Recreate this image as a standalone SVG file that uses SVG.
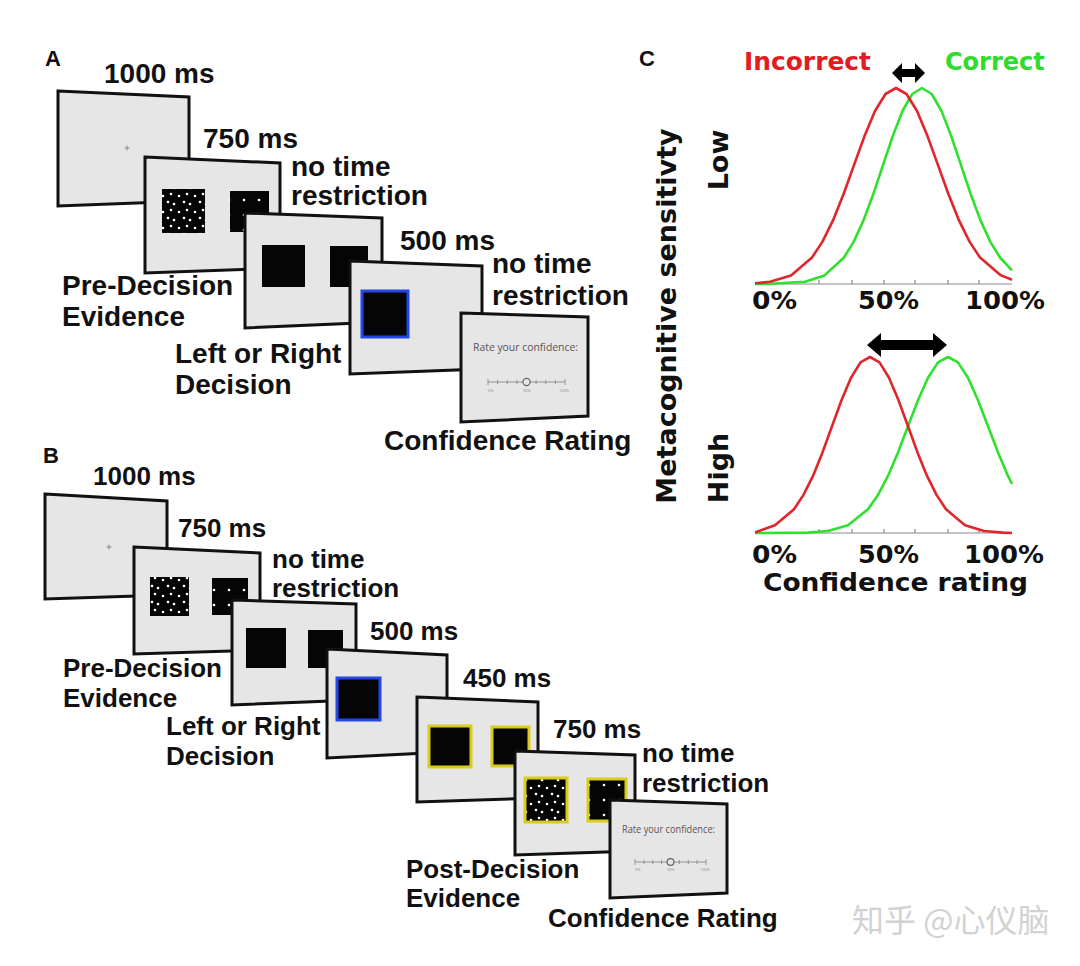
<svg xmlns="http://www.w3.org/2000/svg" width="1080" height="966" viewBox="0 0 1080 966">
<style>
.scr{fill:#e6e6e6;stroke:#111;stroke-width:3;stroke-linejoin:miter}
.lbA{font-family:"Liberation Sans",Arial,sans-serif;font-weight:bold;font-size:28px;fill:#111}
.lbB{font-family:"Liberation Sans",Arial,sans-serif;font-weight:bold;font-size:26px;fill:#111}
.pl{font-family:"Liberation Sans",Arial,sans-serif;font-weight:bold;font-size:22px;fill:#111}
.vc{font-family:"DejaVu Sans",Verdana,sans-serif;font-weight:bold;font-size:24px;fill:#111}
.vr{font-family:"DejaVu Sans",Verdana,sans-serif;font-weight:bold;font-size:27px;fill:#111}
.rate{font-family:"Open Sans","Noto Sans",sans-serif;fill:#5e5357}
.tiny{font-family:"Open Sans","Noto Sans",sans-serif;font-size:4px;fill:#888}
.blk{fill:#050505}
.blue{fill:#050505;stroke:#2347e8;stroke-width:3}
.yel{stroke:#d9cc1a;stroke-width:3}
.red{fill:none;stroke:#e0262c;stroke-width:2.6;stroke-linejoin:round}
.grn{fill:none;stroke:#2fe02f;stroke-width:2.6;stroke-linejoin:round}
.ax{stroke:#8a8a8a;stroke-width:1.2;fill:none}
.fx{stroke:#777;stroke-width:0.8}
.sl{stroke:#8a8a8a;stroke-width:0.9;fill:none}
</style>
<defs>
<pattern id="dense" patternUnits="userSpaceOnUse" width="16" height="16">
<rect width="16" height="16" fill="#050505"/>
<circle cx="3" cy="4" r="1.3" fill="#fff"/>
<circle cx="11" cy="2" r="1.3" fill="#fff"/>
<circle cx="8" cy="10" r="1.3" fill="#fff"/>
<circle cx="14" cy="12" r="1.3" fill="#fff"/>
</pattern>
<pattern id="sparse" patternUnits="userSpaceOnUse" width="15" height="15">
<rect width="15" height="15" fill="#050505"/>
<circle cx="4" cy="5" r="1.3" fill="#fff"/>
</pattern>
</defs>
<rect width="1080" height="966" fill="#ffffff"/>

<!-- Panel A -->
<g id="panelA">
<text class="pl" x="45" y="66">A</text>
<g id="a-s1">
<polygon class="scr" points="58,91 189,97 189,201 58,206"/>
<path class="fx" d="M124.5,148 h5 M127,145.5 v5"/>
<text class="lbA" x="104" y="83">1000 ms</text>
</g>
<g id="a-s2">
<polygon class="scr" points="145,157 280,163 280,268 145,273"/>
<rect x="162" y="189" width="43" height="44" fill="url(#dense)"/>
<rect x="230" y="191" width="39" height="41" fill="url(#sparse)"/>
<text class="lbA" x="203" y="148">750 ms</text>
<text class="lbA" x="291" y="176">no time</text>
<text class="lbA" x="291" y="205">restriction</text>
<text class="lbA" x="62" y="295">Pre-Decision</text>
<text class="lbA" x="62" y="326">Evidence</text>
</g>
<g id="a-s3">
<polygon class="scr" points="245,213 382,218 382,322 245,328"/>
<rect class="blk" x="262" y="245" width="43" height="42"/>
<rect class="blk" x="330" y="246" width="38" height="41"/>
<text class="lbA" x="175" y="363">Left or Right</text>
<text class="lbA" x="175" y="394">Decision</text>
</g>
<g id="a-s4">
<polygon class="scr" points="350,261 482,266 482,369 350,374"/>
<rect class="blue" x="362" y="291" width="46" height="46"/>
<text class="lbA" x="400" y="250">500 ms</text>
<text class="lbA" x="492" y="273">no time</text>
<text class="lbA" x="492" y="305">restriction</text>
</g>
<g id="a-s5">
<polygon class="scr" points="461,313 588,317 588,416 461,422"/>
<text class="rate" x="473" y="351" font-size="11.5" textLength="105" lengthAdjust="spacingAndGlyphs">Rate your confidence:</text>
<path class="sl" d="M488,382 H565 M488,379 v6 M497.6,380 v4 M507.2,380 v4 M516.9,380 v4 M536.1,380 v4 M545.8,380 v4 M555.4,380 v4 M565,379 v6"/>
<circle cx="526.5" cy="382" r="3.6" fill="#e6e6e6" stroke="#666" stroke-width="1.2"/>
<text class="tiny" x="488" y="392">0%</text>
<text class="tiny" x="523" y="392">50%</text>
<text class="tiny" x="559" y="392">100%</text>
<text class="lbA" x="384" y="450">Confidence Rating</text>
</g>
</g>

<!-- Panel B -->
<g id="panelB">
<text class="pl" x="43" y="463">B</text>
<g id="b-s1">
<polygon class="scr" points="45,494 167,501 167,595 45,599"/>
<path class="fx" d="M106.5,547 h5 M109,544.5 v5"/>
<text class="lbB" x="93" y="485">1000 ms</text>
</g>
<g id="b-s2">
<polygon class="scr" points="134,547 260,553 260,650 134,654"/>
<rect x="150" y="577" width="39" height="39" fill="url(#dense)"/>
<rect x="212" y="578" width="36" height="37" fill="url(#sparse)"/>
<text class="lbB" x="178" y="537">750 ms</text>
<text class="lbB" x="272" y="568">no time</text>
<text class="lbB" x="272" y="597">restriction</text>
<text class="lbB" x="63" y="677">Pre-Decision</text>
<text class="lbB" x="63" y="707">Evidence</text>
</g>
<g id="b-s3">
<polygon class="scr" points="232,600 356,604 356,700 232,705"/>
<rect class="blk" x="246" y="628" width="40" height="40"/>
<rect class="blk" x="308" y="630" width="35" height="38"/>
<text class="lbB" x="166" y="735">Left or Right</text>
<text class="lbB" x="166" y="765">Decision</text>
</g>
<g id="b-s4">
<polygon class="scr" points="327,649 447,655 447,752 327,758"/>
<rect class="blue" x="337" y="678" width="43" height="42"/>
<text class="lbB" x="370" y="640">500 ms</text>
</g>
<g id="b-s5">
<polygon class="scr" points="417,697 538,702 538,798 417,802"/>
<rect class="blk yel" x="429" y="726" width="42" height="41"/>
<rect class="blk yel" x="492" y="727" width="37" height="39"/>
<text class="lbB" x="463" y="687">450 ms</text>
</g>
<g id="b-s6">
<polygon class="scr" points="515,751 635,755 635,851 515,855"/>
<rect class="yel" x="525" y="778" width="42" height="44" fill="url(#dense)"/>
<rect class="yel" x="588" y="779" width="38" height="42" fill="url(#sparse)"/>
<text class="lbB" x="553" y="738">750 ms</text>
<text class="lbB" x="642" y="762">no time</text>
<text class="lbB" x="642" y="792">restriction</text>
<text class="lbB" x="406" y="878">Post-Decision</text>
<text class="lbB" x="406" y="907">Evidence</text>
</g>
<g id="b-s7">
<polygon class="scr" points="610,800 727,804 727,893 610,898"/>
<text class="rate" x="622" y="833" font-size="11" textLength="93" lengthAdjust="spacingAndGlyphs">Rate your confidence:</text>
<path class="sl" d="M635,862 H706 M635,859 v6 M643.9,860 v4 M652.8,860 v4 M661.6,860 v4 M679.4,860 v4 M688.3,860 v4 M697.1,860 v4 M706,859 v6"/>
<circle cx="670.5" cy="862" r="3.4" fill="#e6e6e6" stroke="#666" stroke-width="1.2"/>
<text class="tiny" x="635" y="871">0%</text>
<text class="tiny" x="667" y="871">50%</text>
<text class="tiny" x="700" y="871">100%</text>
<text class="lbB" x="548" y="927">Confidence Rating</text>
</g>
</g>

<!-- Panel C -->
<g id="panelC">
<text class="pl" x="639" y="66">C</text>
<text class="vc" x="744" y="70" textLength="127" lengthAdjust="spacingAndGlyphs" style="fill:#e31b23">Incorrect</text>
<text class="vc" x="945" y="70" style="fill:#2ddc2d">Correct</text>
<text class="vr" transform="translate(676,316) rotate(-90)" text-anchor="middle">Metacognitive sensitivty</text>
<text class="vr" transform="translate(728,160) rotate(-90)" text-anchor="middle">Low</text>
<text class="vr" transform="translate(728,468) rotate(-90)" text-anchor="middle">High</text>
<g id="plot-low">
<path class="ax" d="M755,284 H1012 M819,284 v-4 M852,284 v-4 M884,284 v-4 M915,284 v-4 M948,284 v-4 M979,284 v-4"/>
<polyline class="grn" points="755,284 766,284 805,281.8 824.5,275.4 844,257.5 853.75,241.6 863.5,220.4 873.25,194.3 883,165.1 892.75,136.1 902.5,111 912.25,94 922,88 931.75,94 941.5,111 951.25,136.1 961,165.1 970.75,194.3 980.5,220.4 990.25,241.6 1000,257.5 1012,270.3"/>
<polyline class="red" points="755,283.3 770,281.8 791,275.4 812,257.5 822.5,241.6 833,220.4 843.5,194.3 854,165.1 864.5,136.1 875,111 885.5,94 896,88 906.5,94 917,111 927.5,136.1 938,165.1 948.5,194.3 959,220.4 969.5,241.6 980,257.5 1001,275.4 1012,279.7"/>
<text class="vc" x="752" y="309" textLength="45" lengthAdjust="spacingAndGlyphs">0%</text>
<text class="vc" x="858" y="309" textLength="61" lengthAdjust="spacingAndGlyphs">50%</text>
<text class="vc" x="965" y="309" textLength="80" lengthAdjust="spacingAndGlyphs">100%</text>
</g>
<g id="plot-high">
<path class="ax" d="M755,533 H1012 M819,533 v-4 M852,533 v-4 M884,533 v-4 M915,533 v-4 M948,533 v-4 M979,533 v-4"/>
<polyline class="grn" points="755,533 808,532.6 828,531 848,525.3 868,509.2 878,494.9 888,475.9 898,452.4 908,426.3 918,400.2 928,377.7 938,362.4 948,357 958,362.4 968,377.7 978,400.2 988,426.3 998,452.4 1008,475.9 1012,484"/>
<polyline class="red" points="755,532.4 775,525.3 794,509.2 803.5,494.9 813,475.9 822.5,452.4 832,426.3 841.5,400.2 851,377.7 860.5,362.4 870,357 879.5,362.4 889,377.7 898.5,400.2 908,426.3 917.5,452.4 927,475.9 936.5,494.9 946,509.2 965,525.3 984,531 1003,532.6 1012,533"/>
<text class="vc" x="752" y="563" textLength="45" lengthAdjust="spacingAndGlyphs">0%</text>
<text class="vc" x="858" y="563" textLength="61" lengthAdjust="spacingAndGlyphs">50%</text>
<text class="vc" x="964" y="563" textLength="80" lengthAdjust="spacingAndGlyphs">100%</text>
<text class="vc" x="763" y="591" textLength="265" lengthAdjust="spacingAndGlyphs">Confidence rating</text>
</g>
</g>

<g id="arrows">
<polygon fill="#000" points="892,73 902,63 902,69 915,69 915,63 925,73 915,83 915,77 902,77 902,83"/>
<polygon fill="#000" points="867,345 881,333 881,340 933,340 933,333 947,345 933,357 933,350 881,350 881,357"/>
</g>

<text x="852" y="932" font-family="'Noto Sans CJK SC','Noto Sans',sans-serif" font-size="32" fill="#d2d2d2">知乎 @心仪脑</text>
</svg>
